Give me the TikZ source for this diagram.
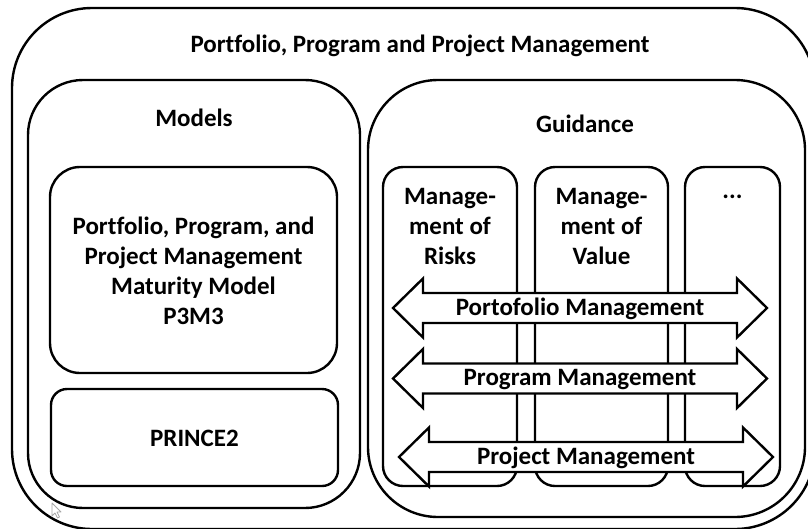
\documentclass[tikz,border=0pt]{standalone}
\usepackage{fontspec}
\setmainfont{Carlito}[Ligatures=NoCommon]
\newcommand\dblarrow[3]{%
  \draw[arr] (#1,#3) -- ({#1+30},{#3-29.5}) -- ({#1+30},{#3-15}) -- ({#2-30},{#3-15})
    -- ({#2-30},{#3-29.5}) -- (#2,#3) -- ({#2-30},{#3+29.5}) -- ({#2-30},{#3+15})
    -- ({#1+30},{#3+15}) -- ({#1+30},{#3+29.5}) -- cycle;}
\begin{document}
\begin{tikzpicture}[x=1pt,y=-1pt,
  box/.style={draw=black, line width=2.4pt},
  lbl/.style={font=\fontsize{25}{30}\selectfont\bfseries, align=center, inner sep=0pt},
  arr/.style={draw=black, fill=white, line width=2.4pt, line join=miter}]
\useasboundingbox (0,0) rectangle (808,528);
\fill[white] (0,0) rectangle (808,528);
% outer
\draw[box, rounded corners=80pt] (12,8) rectangle (815,529);
\node[lbl] (title) at (420,46) {Portfolio, Program and Project Management};
% models
\draw[box, rounded corners=55pt] (28,80) rectangle (360,508);
\node[lbl] (models) at (194,118) {Models};
\draw[box, rounded corners=30pt] (50,167) rectangle (337,373);
\node[lbl] (p3m3) at (193.5,271) {Portfolio, Program, and\\Project Management\\Maturity Model\\P3M3};
\draw[box, rounded corners=16pt] (51,389) rectangle (338,486);
\node[lbl] (prince) at (194.5,438) {PRINCE2};
% guidance
\draw[box, rounded corners=70pt] (368,80) rectangle (805,517);
\node[lbl] (guidance) at (585,124) {Guidance};
\draw[box, rounded corners=20pt] (383,167) rectangle (517,486);
\draw[box, rounded corners=20pt] (535,167) rectangle (668,486);
\draw[box, rounded corners=20pt] (685,167) rectangle (780,486);
\node[lbl] (risks) at (450,226) {Manage-\\ment of\\Risks};
\node[lbl] (value) at (601.5,226) {Manage-\\ment of\\Value};
\node[lbl] (more) at (732.5,197) {...};
% arrows
\dblarrow{393}{767}{308}
\node[lbl] (portfolio) at (580,309) {Portofolio Management};
\dblarrow{393}{767}{378.5}
\node[lbl] (program) at (580,379.5) {Program Management};
\dblarrow{399}{773}{457}
\node[lbl] (project) at (586,458) {Project Management};
% mouse pointer
\draw[gray!70, fill=white, line width=0.8pt, line join=round]
  (52,503) -- (52,516) -- (55,513) -- (57.5,518) -- (59.5,517) -- (57,512) -- (61,512) -- cycle;
\end{tikzpicture}
\end{document}
